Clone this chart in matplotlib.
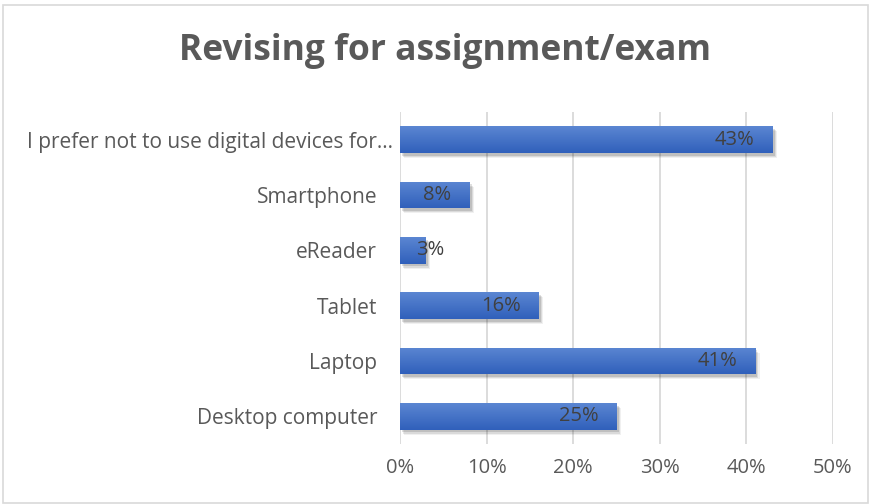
import matplotlib
matplotlib.use("Agg")
import matplotlib.pyplot as plt
import matplotlib.patheffects as pe
import matplotlib.transforms as mtransforms
from matplotlib.patches import Rectangle
from matplotlib.colors import LinearSegmentedColormap
import numpy as np

categories = ["Desktop computer", "Laptop", "Tablet", "eReader", "Smartphone",
              "I prefer not to use digital devices for\u2026"]
values = [25, 41, 16, 3, 8, 43]
value_labels = ["25%", "41%", "16%", "3%", "8%", "43%"]
x_ticks = [0, 10, 20, 30, 40, 50]
x_tick_labels = ["0%", "10%", "20%", "30%", "40%", "50%"]
title = "Revising for assignment/exam"

plt.rcParams["font.family"] = ["Open Sans", "DejaVu Sans"]
text_grey = "#595959"

fig = plt.figure(figsize=(8.7, 5.04), dpi=100)
fig.patches.append(Rectangle((0.004, 0.002), 0.994, 0.988, transform=fig.transFigure,
                             fill=False, edgecolor="#d9d9d9", linewidth=1.2))

ax = fig.add_axes([400 / 870, 1 - 444 / 504, 433 / 870, 332 / 504])
ax.set_xlim(0, 50)
ax.set_ylim(-0.5, len(categories) - 0.5)

bar_h = 0.48
y = np.arange(len(categories))
soft_shadow = [
    pe.SimplePatchShadow(offset=(3.2, -3.6), alpha=0.06, shadow_rgbFace="#000000"),
    pe.SimplePatchShadow(offset=(2.4, -2.8), alpha=0.09, shadow_rgbFace="#000000"),
    pe.SimplePatchShadow(offset=(1.6, -2.0), alpha=0.12, shadow_rgbFace="#000000"),
    pe.Normal(),
]
bars = ax.barh(y, values, height=bar_h, color="#4472c4", zorder=3,
               path_effects=soft_shadow)

# vertical gradient fill over each bar
grad = np.linspace(0, 1, 64).reshape(-1, 1)
cmap = LinearSegmentedColormap.from_list("bar", ["#3060bb", "#5b86d2"])
for b in bars:
    x0, y0 = b.get_x(), b.get_y()
    w, h = b.get_width(), b.get_height()
    im = ax.imshow(grad, extent=(x0, x0 + w, y0, y0 + h), origin="lower",
                   cmap=cmap, aspect="auto", zorder=4, interpolation="bicubic")
    im.set_clip_path(b)

# value labels at the inside end of each bar; short bars get the label pushed out
for yi, v, lab in zip(y, values, value_labels):
    if v < 5:
        ax.annotate(lab, (0, yi), xytext=(11.5, 0), textcoords="offset points",
                    ha="left", va="center", fontsize=14.5, color="#404040", zorder=5)
    else:
        ax.annotate(lab, (v, yi), xytext=(-13, 0), textcoords="offset points",
                    ha="right", va="center", fontsize=14.5, color="#404040", zorder=5)

ax.set_xticks(x_ticks)
ax.set_xticklabels(x_tick_labels, fontsize=14.5, color=text_grey)
ax.set_yticks(y)
ax.set_yticklabels(categories, fontsize=15, color=text_grey)
ax.tick_params(axis="both", length=0)
ax.tick_params(axis="x", pad=10)
ax.tick_params(axis="y", pad=16.5)
ax.grid(axis="x", color="#d9d9d9", linewidth=1.3, zorder=0)
ax.set_axisbelow(True)
for s in ax.spines.values():
    s.set_visible(False)

# the truncated long label sits closer to the axis
long_lab = ax.get_yticklabels()[-1]
long_lab.set_transform(long_lab.get_transform() +
                       mtransforms.ScaledTranslation(16 / 100, 0, fig.dpi_scale_trans))

fig.text(0.512, 1 - 51 / 504, title, ha="center", va="center", fontsize=25.5,
         fontweight="bold", color=text_grey)

fig.savefig("out.png", dpi=100)
